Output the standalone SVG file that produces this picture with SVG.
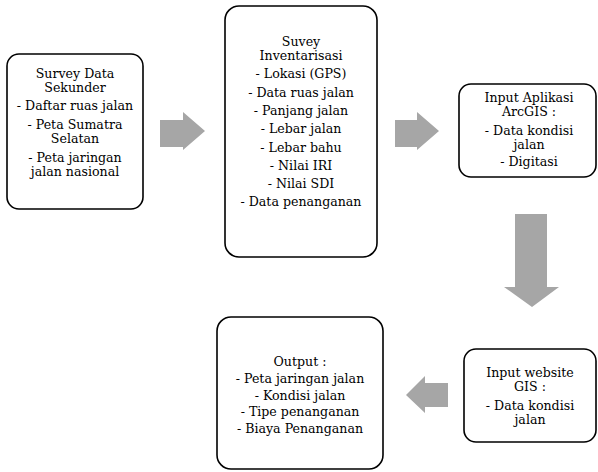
<svg xmlns="http://www.w3.org/2000/svg" width="598" height="472" viewBox="0 0 598 472">
<style>
.box{fill:#fff;stroke:#000;stroke-width:1.6}
.t{font-family:"DejaVu Serif","Liberation Serif",serif;font-size:12.6px;fill:#000;text-anchor:middle}
.arr{fill:#a6a6a6;stroke:none}
</style>
<rect width="598" height="472" fill="#fff"/>
<g id="node-survey-sekunder">
<rect class="box" x="7" y="54" width="136" height="155" rx="12"/>
<text class="t" x="75" y="78">Survey Data</text>
<text class="t" x="75" y="92">Sekunder</text>
<text class="t" x="75" y="110">- Daftar ruas jalan</text>
<text class="t" x="75" y="129">- Peta Sumatra</text>
<text class="t" x="75" y="143">Selatan</text>
<text class="t" x="75" y="162">- Peta jaringan</text>
<text class="t" x="75" y="176">jalan nasional</text>
</g>
<g id="node-survey-inventarisasi">
<rect class="box" x="225" y="6" width="152" height="251" rx="14"/>
<text class="t" x="301" y="46">Suvey</text>
<text class="t" x="301" y="60">Inventarisasi</text>
<text class="t" x="301" y="78">- Lokasi (GPS)</text>
<text class="t" x="301" y="97">- Data ruas jalan</text>
<text class="t" x="301" y="115">- Panjang jalan</text>
<text class="t" x="301" y="133">- Lebar jalan</text>
<text class="t" x="301" y="152">- Lebar bahu</text>
<text class="t" x="301" y="170">- Nilai IRI</text>
<text class="t" x="301" y="188">- Nilai SDI</text>
<text class="t" x="301" y="206">- Data penanganan</text>
</g>
<g id="node-arcgis">
<rect class="box" x="459" y="84" width="137" height="93" rx="12"/>
<text class="t" x="529" y="102">Input Aplikasi</text>
<text class="t" x="529" y="116">ArcGIS :</text>
<text class="t" x="529" y="135">- Data kondisi</text>
<text class="t" x="529" y="149">jalan</text>
<text class="t" x="529" y="166">- Digitasi</text>
</g>
<g id="node-website">
<rect class="box" x="464" y="349" width="132" height="93" rx="12"/>
<text class="t" x="530" y="377">Input website</text>
<text class="t" x="530" y="391">GIS :</text>
<text class="t" x="530" y="410">- Data kondisi</text>
<text class="t" x="530" y="424">jalan</text>
</g>
<g id="node-output">
<rect class="box" x="217" y="317" width="166" height="152" rx="14"/>
<text class="t" x="300" y="366">Output :</text>
<text class="t" x="300" y="383">- Peta jaringan jalan</text>
<text class="t" x="300" y="400">- Kondisi jalan</text>
<text class="t" x="300" y="416">- Tipe penanganan</text>
<text class="t" x="300" y="433">- Biaya Penanganan</text>
</g>
<g id="connectors">
<polygon class="arr" points="160,120 183,120 183,112 205,131 183,150 183,147 160,147"/>
<polygon class="arr" points="395,120 417,120 417,112 439,131 417,150 417,147 395,147"/>
<polygon class="arr" points="515,214 547,214 547,287 559,287 532,307 504,287 515,287"/>
<polygon class="arr" points="448,383 425,383 425,376 406,395 425,413 425,407 448,407"/>
</g>
</svg>
